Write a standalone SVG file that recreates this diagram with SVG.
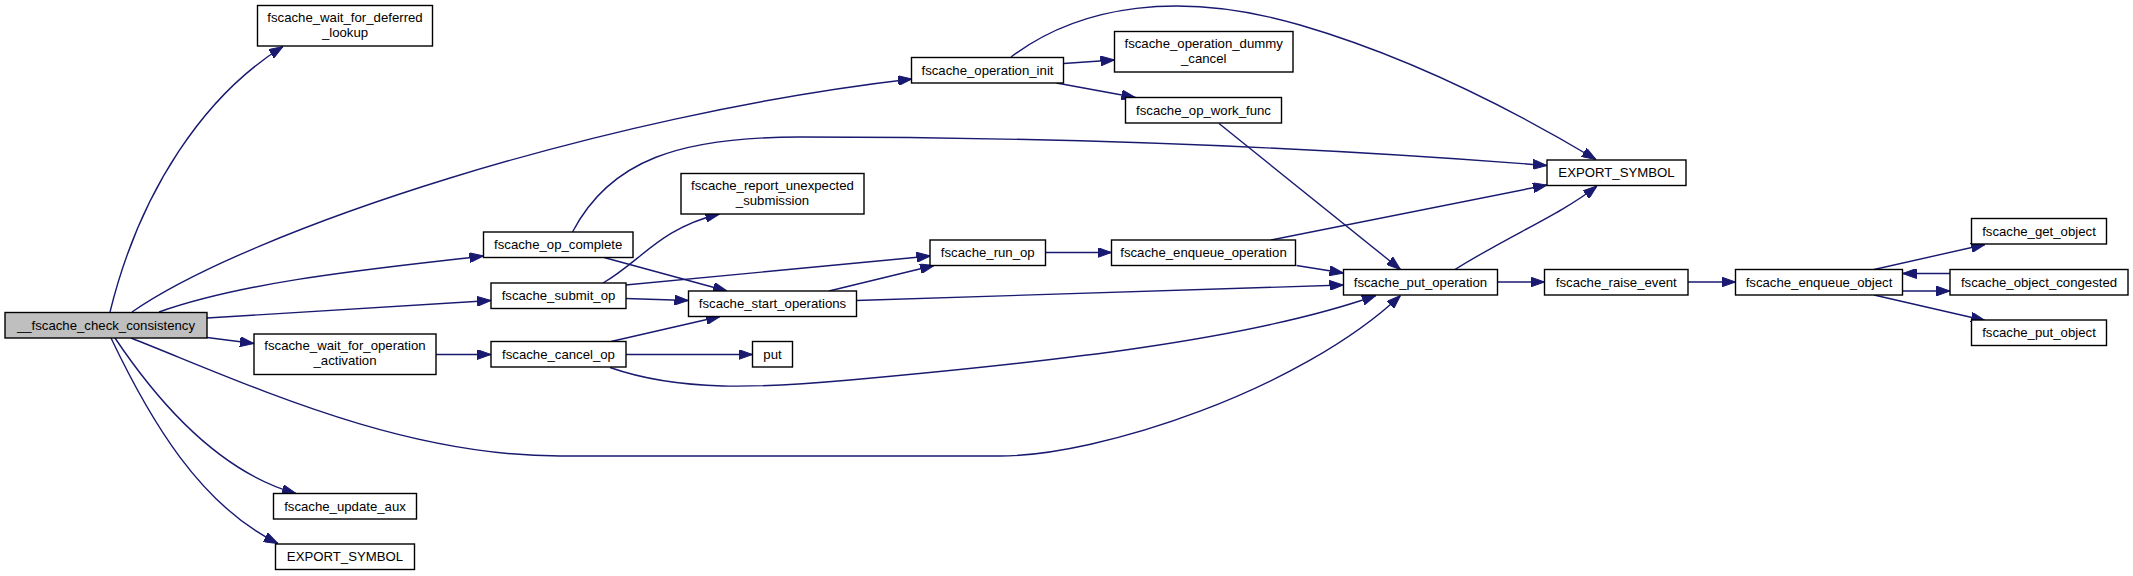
<svg xmlns="http://www.w3.org/2000/svg" width="2133" height="576" viewBox="0 0 2133 576">
<style>
.n rect{fill:#fff;stroke:#000;stroke-width:1.4}
.root rect{fill:#bfbfbf}
.n text{font-family:"Liberation Sans",Arial,sans-serif;font-size:13.2px;text-anchor:middle;fill:#000}
#edges path{fill:none;stroke:#191970;stroke-width:1.4;marker-end:url(#ah)}
</style>
<defs>
<marker id="ah" viewBox="0 0 14 10" refX="14" refY="5" markerWidth="14" markerHeight="10" markerUnits="userSpaceOnUse" orient="auto">
<path d="M0,0 L14,5 L0,10 z" fill="#191970" stroke="#191970" stroke-width="1"/>
</marker>
</defs>
<rect width="2133" height="576" fill="#fff"/>
<g id="edges">
<path d="M110,312 C140,190 205,95 283,46.5"/>
<path d="M132,312 C250,230 600,115 912,79"/>
<path d="M159,312 C250,280 380,268 483.5,256"/>
<path d="M207,318 L491,300.5"/>
<path d="M207,337.5 L254,343.5"/>
<path d="M131,338 C250,385 400,456 560,456 L1000,456 C1100,456 1300,390 1400.5,295.5"/>
<path d="M115,338 C170,420 230,475 296,493.5"/>
<path d="M111,338 C150,420 200,505 278,543.5"/>
<path d="M1063.5,63.5 L1114.5,60"/>
<path d="M1056.5,83 L1135.5,97.5"/>
<path d="M1011,57 C1080,5 1180,-10 1300,25 C1420,60 1530,120 1596,159.5"/>
<path d="M1219,123.5 L1400.5,269.5"/>
<path d="M572.5,232 C610,160 680,137 800,137 C1100,137 1350,150 1547,165.5"/>
<path d="M604,257.5 L727,291"/>
<path d="M603,283 C640,262 660,228 719.5,214"/>
<path d="M625.5,285 L930.5,256"/>
<path d="M625.5,298.5 L688.5,300.5"/>
<path d="M611,341.5 L720,316.5"/>
<path d="M626,354.5 L752.5,354.5"/>
<path d="M610,367.5 C680,392 760,388 850,380 C1050,362 1250,340 1376,295.5"/>
<path d="M436,354.5 L491,354.5"/>
<path d="M829,291 L934,265.5"/>
<path d="M856,300.5 L1343.5,285"/>
<path d="M1045.5,252.5 L1111.5,252.5"/>
<path d="M1271,240 L1547,185"/>
<path d="M1296.5,265.5 L1343.5,273"/>
<path d="M1455,269.5 C1510,235 1560,215 1597,186"/>
<path d="M1497.5,282 L1544.5,282"/>
<path d="M1688,282 L1735.5,282"/>
<path d="M1874,269.5 L1985,244.5"/>
<path d="M1902.5,291 L1950,291"/>
<path d="M1874,295 L1985,320.5"/>
<path d="M1950,273.5 L1902.5,273.5"/>
</g>
<g id="n_check" class="n root"><rect x="5" y="312.5" width="202" height="25.5"/><text x="106" y="329.5">__fscache_check_consistency</text></g>
<g id="n_deferred" class="n"><rect x="257.5" y="5.5" width="175" height="40.5"/><text x="345" y="21.5">fscache_wait_for_deferred</text><text x="345" y="36.5">_lookup</text></g>
<g id="n_opinit" class="n"><rect x="911.5" y="57.5" width="152" height="25.5"/><text x="987.5" y="74.5">fscache_operation_init</text></g>
<g id="n_dummy" class="n"><rect x="1114.5" y="31.5" width="178.5" height="40.5"/><text x="1203.7" y="47.5">fscache_operation_dummy</text><text x="1203.7" y="62.5">_cancel</text></g>
<g id="n_workfunc" class="n"><rect x="1125.5" y="97.5" width="156" height="25.5"/><text x="1203.5" y="114.5">fscache_op_work_func</text></g>
<g id="n_export1" class="n"><rect x="1547" y="160" width="139" height="25.5"/><text x="1616.5" y="177">EXPORT_SYMBOL</text></g>
<g id="n_report" class="n"><rect x="681" y="173.5" width="183" height="40.5"/><text x="772.5" y="189.5">fscache_report_unexpected</text><text x="772.5" y="204.5">_submission</text></g>
<g id="n_complete" class="n"><rect x="483.5" y="232" width="149.5" height="25.5"/><text x="558.2" y="249">fscache_op_complete</text></g>
<g id="n_runop" class="n"><rect x="930" y="240" width="115.5" height="25.5"/><text x="987.8" y="257">fscache_run_op</text></g>
<g id="n_enqop" class="n"><rect x="1111.5" y="240" width="184" height="25.5"/><text x="1203.5" y="257">fscache_enqueue_operation</text></g>
<g id="n_submit" class="n"><rect x="491" y="283" width="135" height="25.5"/><text x="558.5" y="300">fscache_submit_op</text></g>
<g id="n_putop" class="n"><rect x="1343.5" y="269.5" width="154" height="25.5"/><text x="1420.5" y="286.5">fscache_put_operation</text></g>
<g id="n_raise" class="n"><rect x="1544.5" y="269.5" width="143.5" height="25.5"/><text x="1616.3" y="286.5">fscache_raise_event</text></g>
<g id="n_enqobj" class="n"><rect x="1735.5" y="269.5" width="167" height="25.5"/><text x="1819" y="286.5">fscache_enqueue_object</text></g>
<g id="n_getobj" class="n"><rect x="1971.5" y="218.5" width="135" height="25.5"/><text x="2039" y="235.5">fscache_get_object</text></g>
<g id="n_congested" class="n"><rect x="1950" y="269.5" width="178" height="25.5"/><text x="2039" y="286.5">fscache_object_congested</text></g>
<g id="n_putobj" class="n"><rect x="1971.5" y="320" width="135" height="25.5"/><text x="2039" y="337">fscache_put_object</text></g>
<g id="n_startops" class="n"><rect x="688.5" y="291" width="168" height="25.5"/><text x="772.5" y="308">fscache_start_operations</text></g>
<g id="n_waitact" class="n"><rect x="254" y="334" width="182" height="40.5"/><text x="345" y="350">fscache_wait_for_operation</text><text x="345" y="365">_activation</text></g>
<g id="n_cancel" class="n"><rect x="491" y="341.5" width="135" height="25.5"/><text x="558.5" y="358.5">fscache_cancel_op</text></g>
<g id="n_put" class="n"><rect x="752.5" y="341.5" width="40" height="25.5"/><text x="772.5" y="358.5">put</text></g>
<g id="n_updaux" class="n"><rect x="273.5" y="493.5" width="143" height="25.5"/><text x="345" y="510.5">fscache_update_aux</text></g>
<g id="n_export2" class="n"><rect x="275.5" y="544" width="139" height="25.5"/><text x="345" y="561">EXPORT_SYMBOL</text></g>
</svg>
